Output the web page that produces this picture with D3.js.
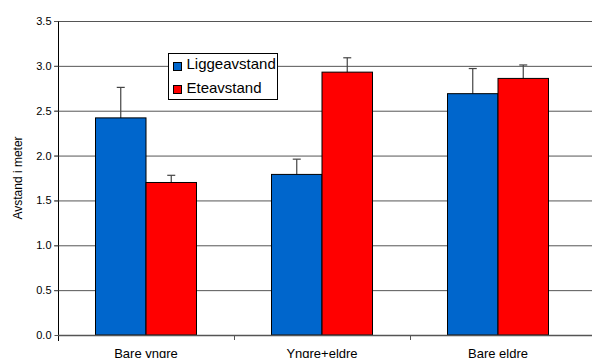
<!DOCTYPE html>
<html>
<head>
<meta charset="utf-8">
<script src="https://cdn.jsdelivr.net/npm/d3@7"></script>
<style>
  body { margin: 0; background: #fff; }
  svg { display: block; font-family: "Liberation Sans", Arial, sans-serif; }
</style>
</head>
<body>
<svg class="chart"></svg>
<script>
const categories = ["Bare yngre", "Yngre+eldre", "Bare eldre"]
const seriesNames = ["Liggeavstand", "Eteavstand"]
const seriesColors = ["#0066cc", "#ff0000"]
const ligge = [2.42, 1.79, 2.69]
const ligge_err = [0.34, 0.17, 0.28]
const ete = [1.70, 2.93, 2.86]
const ete_err = [0.08, 0.16, 0.15]
const yTicks = [0, 0.5, 1.0, 1.5, 2.0, 2.5, 3.0, 3.5]

const W = 592, H = 358
const plotLeft = 58, plotRight = 592, plotTop = 21, plotBottom = 335

const svg = d3.select('svg.chart').attr('width', W).attr('height', H)

const yScale = d3.scaleLinear().domain([0, 3.5]).range([plotBottom, plotTop])
const xScale = d3.scaleBand().domain(categories).range([plotLeft, 586])
const inner = d3.scaleBand().domain(seriesNames).range([0, 101])

// gridlines
svg.append('g')
  .selectAll('line')
  .data(yTicks.filter(d => d > 0))
  .enter()
  .append('line')
  .attr('x1', plotLeft - 4)
  .attr('x2', plotRight)
  .attr('y1', d => yScale(d) + 0.5)
  .attr('y2', d => yScale(d) + 0.5)
  .attr('stroke', '#555')
  .attr('stroke-width', 1)

// y axis
svg.append('g')
  .attr('transform', `translate(${plotLeft + 0.5}, 0)`)
  .call(d3.axisLeft(yScale).tickValues(yTicks).tickFormat(d3.format('.1f')).tickSize(4).tickPadding(3))
  .call(g => g.select('.domain').attr('stroke', '#000').attr('d', `M0,${plotTop}V${plotBottom + 6}`))
  .call(g => g.selectAll('.tick line').attr('stroke', '#555'))
  .call(g => g.selectAll('text').attr('font-size', 11).attr('fill', '#000').attr('font-family', '"Liberation Sans", Arial, sans-serif'))

// y title
svg.append('text')
  .attr('transform', `translate(22, ${(plotTop + plotBottom) / 2}) rotate(-90)`)
  .attr('text-anchor', 'middle')
  .attr('font-size', 12)
  .text('Avstand i meter')

const rows = categories.map((c, i) => [
  { cat: c, s: 0, v: ligge[i], e: ligge_err[i] },
  { cat: c, s: 1, v: ete[i], e: ete_err[i] }
]).flat()

const groupX = c => xScale(c) + (xScale.bandwidth() - 101) / 2
const midX = d => groupX(d.cat) + inner(seriesNames[d.s]) + inner.bandwidth() / 2

// error bars
const eb = svg.append('g').selectAll('g').data(rows).enter().append('g')
eb.append('line')
  .attr('x1', midX).attr('x2', midX)
  .attr('y1', d => yScale(d.v))
  .attr('y2', d => yScale(d.v + d.e))
  .attr('stroke', '#444')
  .attr('stroke-width', 1.2)
eb.append('line')
  .attr('x1', d => midX(d) - 4)
  .attr('x2', d => midX(d) + 4)
  .attr('y1', d => yScale(d.v + d.e))
  .attr('y2', d => yScale(d.v + d.e))
  .attr('stroke', '#444')
  .attr('stroke-width', 1.2)

// bars
svg.append('g').selectAll('rect')
  .data(rows)
  .enter()
  .append('rect')
  .attr('x', d => groupX(d.cat) + inner(seriesNames[d.s]))
  .attr('y', d => yScale(d.v))
  .attr('width', inner.bandwidth())
  .attr('height', d => plotBottom - yScale(d.v))
  .attr('fill', d => seriesColors[d.s])
  .attr('stroke', '#000')
  .attr('stroke-width', 1)

// x axis
svg.append('line')
  .attr('x1', plotLeft).attr('x2', plotRight)
  .attr('y1', plotBottom + 0.5).attr('y2', plotBottom + 0.5)
  .attr('stroke', '#555').attr('stroke-width', 1.5)
svg.append('g').selectAll('line')
  .data(categories.slice(1))
  .enter()
  .append('line')
  .attr('x1', d => xScale(d) + 0.5).attr('x2', d => xScale(d) + 0.5)
  .attr('y1', plotBottom).attr('y2', plotBottom + 5)
  .attr('stroke', '#555')
svg.append('g').selectAll('text')
  .data(categories)
  .enter()
  .append('text')
  .attr('x', d => xScale(d) + xScale.bandwidth() / 2)
  .attr('y', 357.5)
  .attr('text-anchor', 'middle')
  .attr('font-size', 13)
  .text(d => d)

// legend
const lg = svg.append('g').attr('transform', 'translate(168.5, 53.5)')
lg.append('rect').attr('width', 109).attr('height', 46).attr('fill', '#fff').attr('stroke', '#000')
seriesNames.forEach((n, i) => {
  lg.append('rect')
    .attr('x', 5).attr('y', 9 + i * 23)
    .attr('width', 8).attr('height', 8)
    .attr('fill', seriesColors[i]).attr('stroke', '#000')
  lg.append('text')
    .attr('x', 18).attr('y', 15 + i * 24)
    .attr('font-size', 15)
    .text(n)
})
</script>
</body>
</html>
